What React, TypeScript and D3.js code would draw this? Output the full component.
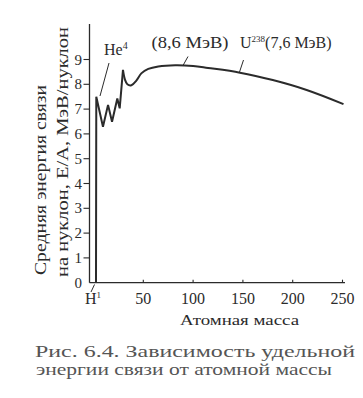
import React from "react";
import * as d3 from "d3";

const zigzagMass = [2.5, 2.8, 9.5, 14.6, 18.6, 23.9, 26.3, 29.6];
const zigzagEnergy = [0, 7.5, 6.29, 7.17, 6.49, 7.43, 7.03, 8.58];
const smoothMass = [29.6, 31.5, 34, 38, 43, 48, 55, 65, 82, 100, 115, 147, 180, 214, 251];
const smoothEnergy = [8.58, 8.2, 8.0, 7.96, 8.15, 8.44, 8.62, 8.72, 8.77, 8.74, 8.66, 8.47, 8.17, 7.77, 7.2];
const xTicks = [50, 100, 150, 200, 250];
const yTicks = [1, 2, 3, 4, 5, 6, 7, 8, 9];

const W = 363;
const H = 398;
const ink = "#2b2b2b";
const serif = "Liberation Serif, Times New Roman, serif";

export default function App() {
  const x = d3.scaleLinear().domain([0, 250]).range([93.5, 342.5]);
  const y = d3.scaleLinear().domain([0, 9]).range([282.7, 59.5]);

  const zig = d3
    .line<number>()
    .x((_, i) => x(zigzagMass[i]))
    .y((_, i) => y(zigzagEnergy[i]))
    .curve(d3.curveLinear)(zigzagMass);
  const smooth = d3
    .line<number>()
    .x((_, i) => x(smoothMass[i]))
    .y((_, i) => y(smoothEnergy[i]))
    .curve(d3.curveCatmullRom.alpha(0.5))(smoothMass);

  const axisX = 89.5;
  const axisY = y(0);

  return (
    <svg
      width={W}
      height={H}
      style={{ position: "absolute", left: 0, top: 0, background: "#fff", fontFamily: serif }}
    >
      <rect x={0} y={0} width={W} height={H} fill="#fff" />
      {/* axes */}
      <line x1={axisX} x2={axisX} y1={24} y2={axisY} stroke={ink} strokeWidth={1.3} />
      <line x1={axisX} x2={x(252.5)} y1={axisY} y2={axisY} stroke={ink} strokeWidth={1.3} />
      {yTicks.map((t) => (
        <g key={"y" + t}>
          <line x1={axisX - 6} x2={axisX} y1={y(t)} y2={y(t)} stroke={ink} strokeWidth={1.1} />
          <text x={82} y={y(t) + 5} textAnchor="end" fontSize={15} fill={ink}>
            {t}
          </text>
        </g>
      ))}
      <text x={82} y={axisY + 5} textAnchor="end" fontSize={15} fill={ink}>
        0
      </text>
      {xTicks.map((t) => (
        <g key={"x" + t}>
          <line x1={x(t)} x2={x(t)} y1={axisY} y2={axisY - 3} stroke={ink} strokeWidth={1.1} />
          <text x={x(t)} y={304} textAnchor="middle" fontSize={16} fill={ink}>
            {t}
          </text>
        </g>
      ))}
      {/* H1 label */}
      <text x={85} y={304} fontSize={16} fill={ink}>
        H<tspan dy={-6} fontSize={9}>1</tspan>
      </text>
      <line x1={91} y1={292} x2={94.5} y2={284.5} stroke={ink} strokeWidth={1} />

      {/* curve */}
      <path d={zig || ""} fill="none" stroke={ink} strokeWidth={2} strokeLinejoin="miter" />
      <path d={smooth || ""} fill="none" stroke={ink} strokeWidth={2} />

      {/* annotations */}
      <text x={104} y={55} fontSize={16} fill={ink}>
        He<tspan dy={-6} fontSize={10}>4</tspan>
      </text>
      <line x1={109} y1={63} x2={100} y2={96} stroke={ink} strokeWidth={1} />
      <text x={151.5} y={48} fontSize={16} fill={ink} textLength={77} lengthAdjust="spacingAndGlyphs">
        (8,6 МэВ)
      </text>
      <line x1={188} y1={56.5} x2={183} y2={65.5} stroke={ink} strokeWidth={1} />
      <text x={240} y={48} fontSize={16} fill={ink}>
        U<tspan dy={-6} fontSize={9}>238</tspan>
        <tspan dy={6}>(7,6 МэВ)</tspan>
      </text>
      <line x1={243.5} y1={60} x2={239.5} y2={72} stroke={ink} strokeWidth={1} />

      {/* y label */}
      <text
        transform="translate(46,275) rotate(-90)"
        fontSize={17}
        fill={ink}
        textLength={190}
        lengthAdjust="spacingAndGlyphs"
      >
        Средняя энергия связи
      </text>
      <text
        transform="translate(68,277) rotate(-90)"
        fontSize={17}
        fill={ink}
        textLength={250}
        lengthAdjust="spacingAndGlyphs"
      >
        на нуклон, E/A, МэВ/нуклон
      </text>

      {/* x label */}
      <text x={180} y={325} fontSize={14} fill={ink} textLength={119} lengthAdjust="spacingAndGlyphs">
        Атомная масса
      </text>

      {/* caption */}
      <text x={35} y={357} fontSize={17} fill="#555" textLength={320} lengthAdjust="spacingAndGlyphs">
        Рис. 6.4. Зависимость удельной
      </text>
      <text x={36} y={374.5} fontSize={17} fill="#555" textLength={296} lengthAdjust="spacingAndGlyphs">
        энергии связи от атомной массы
      </text>
    </svg>
  );
}
